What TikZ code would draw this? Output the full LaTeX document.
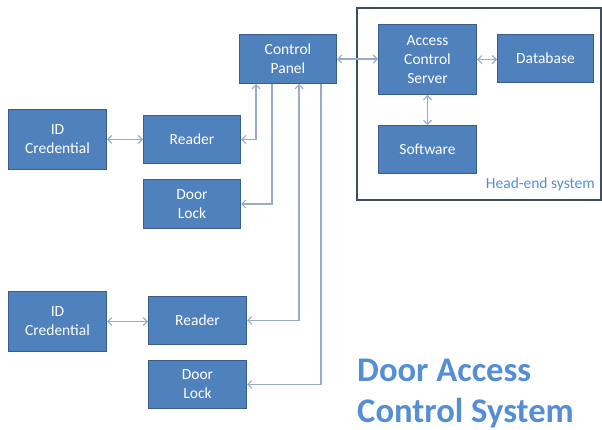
\documentclass[tikz,border=0pt]{standalone}
\usepackage{fontspec}
\setmainfont{Carlito}
\usetikzlibrary{arrows.meta,calc}
\definecolor{boxfill}{RGB}{79,129,189}
\definecolor{boxedge}{RGB}{56,93,138}
\definecolor{wire}{RGB}{150,172,202}
\definecolor{framecol}{RGB}{60,78,98}
\definecolor{titleblue}{RGB}{85,142,213}
\tikzset{
  blk/.style={draw=boxedge, line width=1pt, fill=boxfill, text=white, inner sep=0pt,
    anchor=north west, align=center,
    font=\fontsize{15.5}{19}\selectfont},
  link/.style={draw=wire, line width=1.2pt},
  tip/.style={-{Straight Barb[length=4pt,width=8pt]}},
  both/.style={{Straight Barb[length=4pt,width=8pt]}-{Straight Barb[length=4pt,width=8pt]}},
}
\begin{document}
\begin{tikzpicture}[x=1pt,y=-1pt]
  \useasboundingbox (0,0) rectangle (602,430);

  % head-end frame
  \draw[framecol, line width=1.3pt] (357,8) rectangle (601,200);
  \node[anchor=base east, text=titleblue, font=\fontsize{15.5}{19}\selectfont, inner sep=0pt]
    (hes) at (595,189) {Head-end system};

  % blocks
  \node[blk, minimum width=97pt, minimum height=49pt] (cp) at (239,34) {Control\\Panel};
  \node[blk, minimum width=98pt, minimum height=70pt] (acs) at (378,24) {Access\\Control\\Server};
  \node[blk, minimum width=96pt, minimum height=48pt] (db) at (497,34) {Database};
  \node[blk, minimum width=98pt, minimum height=48pt] (sw) at (378,125) {Software};

  \node[blk, minimum width=98pt, minimum height=60pt] (id1) at (8,109) {ID\\Credential};
  \node[blk, minimum width=97pt, minimum height=48pt] (rd1) at (143,115) {Reader};
  \node[blk, minimum width=97pt, minimum height=49pt] (dl1) at (143,179) {Door\\Lock};

  \node[blk, minimum width=98pt, minimum height=60pt] (id2) at (8,291) {ID\\Credential};
  \node[blk, minimum width=98pt, minimum height=48pt] (rd2) at (148,296) {Reader};
  \node[blk, minimum width=98pt, minimum height=48pt] (dl2) at (148,360) {Door\\Lock};

  % connectors
  \draw[link, both] (cp.east) -- (cp.east -| acs.west);
  \draw[link, both] (acs.east) -- (acs.east -| db.west);
  \draw[link, both] (acs.south) -- (sw.north);
  \draw[link, both] (id1.east) -- (id1.east -| rd1.west);
  \draw[link, both] (id2.east) -- (id2.east -| rd2.west);
  \draw[link, both] ([xshift=17pt]cp.south west) |- (rd1.east);
  \draw[link, tip] ([xshift=33pt]cp.south west) |- (dl1.east);
  \draw[link, both] ([xshift=60pt]cp.south west) |- (rd2.east);
  \draw[link, tip] ([xshift=82pt]cp.south west) |- (dl2.east);

  % title (base anchor sits on the last line)
  \node[anchor=base west, align=left, text=titleblue, inner sep=0pt,
    font=\fontsize{34.6}{41}\bfseries\selectfont] (title) at (357,422)
    {Door Access\\Control System};
\end{tikzpicture}
\end{document}
